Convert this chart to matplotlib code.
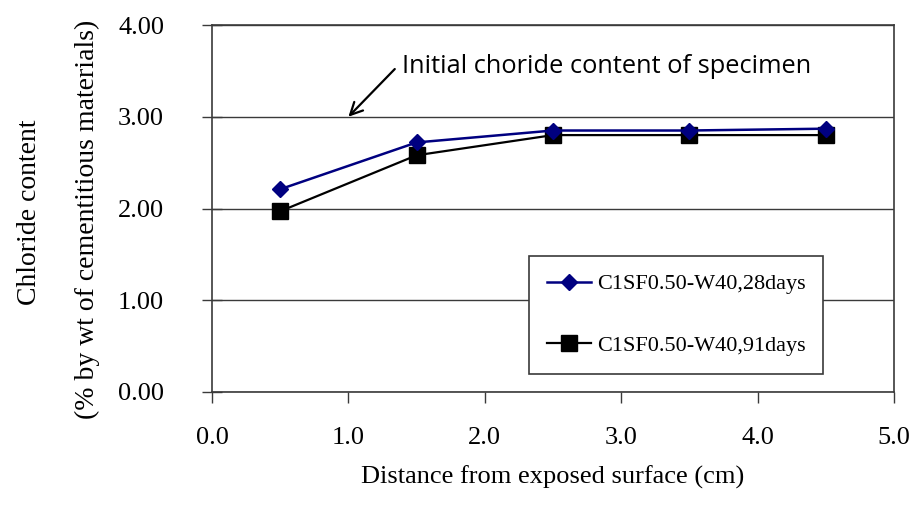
import matplotlib
matplotlib.use("Agg")
import matplotlib.pyplot as plt

# ----------------------------------------------------------
# Chloride profile data
# ----------------------------------------------------------

depth_cm = [0.5, 1.5, 2.5, 3.5, 4.5]

chloride_28days = [2.21, 2.72, 2.85, 2.85, 2.87]
chloride_91days = [1.97, 2.58, 2.80, 2.80, 2.80]

label_28days = "C1SF0.50-W40,28days"
label_91days = "C1SF0.50-W40,91days"

x_ticks = [0.0, 1.0, 2.0, 3.0, 4.0, 5.0]
y_ticks = [0.0, 1.0, 2.0, 3.0, 4.0]

initial_level = 3.0
note_text = "Initial choride content of specimen"

# ----------------------------------------------------------
# Figure
# ----------------------------------------------------------

plt.rcParams["font.family"] = ["Liberation Serif", "DejaVu Serif"]

fig = plt.figure(figsize=(9.16, 5.23), dpi=100)
ax = fig.add_axes([212 / 916, 1 - 392 / 523, 682 / 916, 367 / 523])

frame_color = "#3a3a3a"

ax.plot(depth_cm, chloride_91days, color="black", linewidth=1.6,
        marker="s", markersize=11, markerfacecolor="black",
        markeredgecolor="black", label=label_91days, zorder=3)

ax.plot(depth_cm, chloride_28days, color="#000080", linewidth=1.8,
        marker="D", markersize=8.5, markerfacecolor="#000080",
        markeredgecolor="#000080", label=label_28days, zorder=4)

ax.set_xlim(0, 5)
ax.set_ylim(0, 4)

ax.set_xticks(x_ticks)
ax.set_xticklabels([f"{t:.1f}" for t in x_ticks])
ax.set_yticks(y_ticks)
ax.set_yticklabels([f"{t:.2f}" for t in y_ticks])

ax.tick_params(axis="x", direction="out", length=8, width=1,
               color=frame_color, labelsize=19, pad=17)
ax.tick_params(axis="y", direction="inout", length=15, width=1,
               color=frame_color, labelsize=19, pad=27)

for side in ["left", "right", "top", "bottom"]:
    ax.spines[side].set_color(frame_color)
    ax.spines[side].set_linewidth(1.2)

ax.grid(axis="y", color=frame_color, linewidth=1.0)
ax.set_axisbelow(True)

# ----------------------------------------------------------
# Labels
# ----------------------------------------------------------

ax.set_xlabel("Distance from exposed surface (cm)", fontsize=19, labelpad=12)

fig.text(30 / 916, 1 - 212 / 523, "Chloride content", rotation=90,
         ha="center", va="center", fontsize=20)
fig.text(87 / 916, 1 - 219 / 523, "(% by wt of cementitious materials)",
         rotation=90, ha="center", va="center", fontsize=20)

# ----------------------------------------------------------
# Annotation arrow
# ----------------------------------------------------------

ax.annotate("", xy=(1.0, initial_level), xytext=(1.34, 3.52),
            arrowprops=dict(arrowstyle="->", color="black", lw=1.6,
                            mutation_scale=22, shrinkA=0, shrinkB=0))
ax.text(1.395, 3.55, note_text, fontsize=18.3, ha="left", va="center",
        family=["Open Sans", "DejaVu Sans"])

# ----------------------------------------------------------
# Legend
# ----------------------------------------------------------

handles, labels = ax.get_legend_handles_labels()
legend = ax.legend(handles[::-1], labels[::-1],
                   loc="upper left", bbox_to_anchor=(0.465, 0.3706),
                   borderaxespad=0, fontsize=16, frameon=True,
                   fancybox=False, edgecolor=frame_color,
                   handlelength=2.0, handletextpad=0.25,
                   labelspacing=1.85, borderpad=0.8)
legend.get_frame().set_linewidth(1.2)
legend.get_frame().set_alpha(1)

fig.savefig("out.png", dpi=100)
